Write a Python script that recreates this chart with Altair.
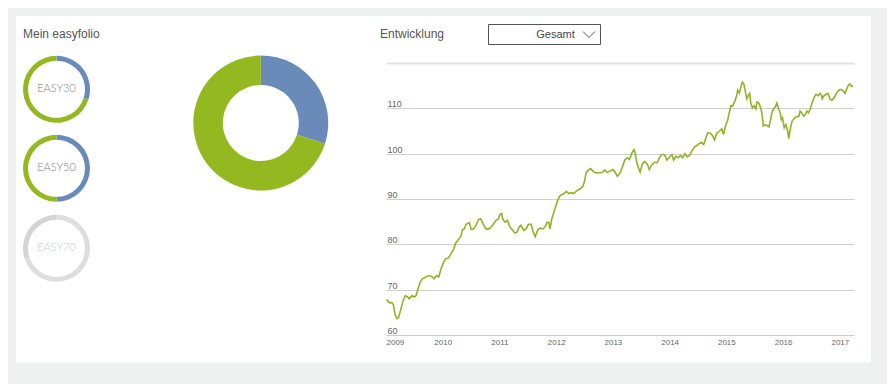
import altair as alt
import pandas as pd

# ---- data ----
years = [
    2009.01, 2009.06, 2009.10, 2009.13, 2009.16, 2009.19, 2009.22, 2009.26, 2009.30, 2009.34,
    2009.38, 2009.41, 2009.46, 2009.50, 2009.53, 2009.57, 2009.60, 2009.64, 2009.70, 2009.76,
    2009.82, 2009.85, 2009.89, 2009.93, 2009.97, 2010.01, 2010.05, 2010.10, 2010.14, 2010.19,
    2010.23, 2010.28, 2010.32, 2010.35, 2010.38, 2010.41, 2010.44, 2010.47, 2010.50, 2010.54,
    2010.58, 2010.63, 2010.67, 2010.71, 2010.76, 2010.82, 2010.88, 2010.94, 2010.98, 2011.01,
    2011.04, 2011.06, 2011.10, 2011.14, 2011.18, 2011.22, 2011.27, 2011.31, 2011.35, 2011.38,
    2011.43, 2011.47, 2011.51, 2011.56, 2011.59, 2011.63, 2011.68, 2011.72, 2011.77, 2011.81,
    2011.84, 2011.87, 2011.89, 2011.92, 2011.97, 2012.02, 2012.06, 2012.10, 2012.14, 2012.18,
    2012.22, 2012.27, 2012.31, 2012.35, 2012.40, 2012.43, 2012.47, 2012.50, 2012.53, 2012.57,
    2012.61, 2012.65, 2012.69, 2012.74, 2012.78, 2012.82, 2012.85, 2012.90, 2012.94, 2013.00,
    2013.04, 2013.08, 2013.13, 2013.17, 2013.21, 2013.25, 2013.29, 2013.33, 2013.37, 2013.39,
    2013.42, 2013.45, 2013.48, 2013.52, 2013.56, 2013.61, 2013.64, 2013.68, 2013.73, 2013.78,
    2013.82, 2013.86, 2013.91, 2013.95, 2013.99, 2014.04, 2014.07, 2014.11, 2014.15, 2014.19,
    2014.23, 2014.27, 2014.31, 2014.35, 2014.39, 2014.44, 2014.48, 2014.52, 2014.56, 2014.60,
    2014.64, 2014.67, 2014.72, 2014.76, 2014.79, 2014.83, 2014.88, 2014.92, 2014.95, 2014.99,
    2015.02, 2015.05, 2015.08, 2015.11, 2015.15, 2015.18, 2015.20, 2015.23, 2015.26, 2015.28,
    2015.31, 2015.34, 2015.36, 2015.38, 2015.41, 2015.43, 2015.46, 2015.49, 2015.52, 2015.54,
    2015.57, 2015.60, 2015.62, 2015.64, 2015.65, 2015.69, 2015.72, 2015.75, 2015.78, 2015.80,
    2015.83, 2015.86, 2015.89, 2015.92, 2015.95, 2015.97, 2015.99, 2016.02, 2016.05, 2016.08,
    2016.10, 2016.13, 2016.16, 2016.19, 2016.23, 2016.28, 2016.30, 2016.33, 2016.36, 2016.39,
    2016.42, 2016.45, 2016.48, 2016.51, 2016.55, 2016.58, 2016.62, 2016.65, 2016.68, 2016.69,
    2016.72, 2016.76, 2016.79, 2016.83, 2016.86, 2016.90, 2016.94, 2016.98, 2017.02, 2017.06,
    2017.09, 2017.12, 2017.15, 2017.18, 2017.21, 2017.23,
]
values = [
    67.8, 67.1, 67.2, 66.7, 64.5, 63.6, 63.8, 65.6, 67.5, 68.7,
    68.4, 68.0, 68.7, 68.4, 68.7, 70.4, 71.6, 72.4, 72.8, 73.1,
    72.8, 72.4, 73.1, 72.8, 74.6, 75.9, 76.8, 77.0, 77.8, 78.9,
    80.3, 81.1, 81.8, 83.3, 83.4, 84.4, 84.6, 84.8, 83.3, 83.4,
    84.0, 85.5, 85.6, 84.6, 83.4, 83.4, 84.2, 85.3, 85.6, 86.6,
    86.8, 85.5, 84.9, 85.3, 83.9, 83.3, 82.5, 82.7, 83.9, 84.2,
    83.1, 83.4, 84.4, 84.4, 82.9, 81.7, 83.3, 83.6, 83.4, 84.0,
    84.9, 84.8, 83.4, 85.5, 87.5, 89.5, 90.6, 91.0, 91.2, 91.7,
    91.2, 91.4, 91.2, 91.7, 92.1, 92.3, 92.8, 93.9, 95.8, 96.4,
    96.7, 96.1, 95.8, 95.8, 95.8, 95.9, 96.4, 95.9, 96.1, 96.5,
    95.9, 95.0, 95.8, 97.2, 98.6, 99.1, 98.7, 100.0, 100.9, 100.3,
    98.1, 96.9, 95.9, 97.8, 98.3, 97.6, 96.5, 97.4, 98.1, 98.0,
    99.1, 99.8, 99.8, 98.6, 99.1, 99.8, 98.6, 99.4, 99.1, 99.6,
    99.1, 100.0, 99.3, 99.6, 100.5, 101.5, 101.8, 102.2, 102.5, 102.0,
    103.5, 104.6, 104.5, 103.9, 103.0, 104.5, 105.0, 105.5, 104.2, 106.4,
    107.2, 109.0, 110.6, 110.5, 111.6, 112.7, 114.0, 113.4, 114.9, 115.8,
    115.3, 113.4, 112.1, 112.7, 113.3, 111.2, 110.1, 110.6, 109.9, 111.4,
    111.2, 110.3, 109.4, 107.5, 106.1, 106.4, 106.2, 105.9, 107.5, 108.9,
    109.9, 110.3, 111.2, 109.9, 109.0, 107.5, 107.9, 105.7, 106.4, 105.0,
    103.3, 105.7, 107.2, 107.7, 108.1, 108.3, 109.4, 109.0, 108.3, 108.6,
    109.4, 109.0, 109.9, 111.2, 112.5, 113.1, 112.8, 113.3, 112.8, 112.1,
    112.8, 113.1, 113.3, 112.0, 111.8, 112.3, 113.3, 114.0, 114.2, 113.8,
    113.3, 114.2, 115.1, 115.4, 114.8, 115.0,
]

y_ticks = [60, 70, 80, 90, 100, 110, 120]
x_ticks = [2009, 2010, 2011, 2012, 2013, 2014, 2015, 2016, 2017]

ring_names = ["EASY30", "EASY50", "EASY70"]
easy30_shares = [30, 70]
easy50_shares = [50, 50]
easy70_shares = [70, 30]
donut_shares = [30, 70]
active_colors = ["#6a8bb9", "#94b81f"]
inactive_colors = ["#dedede", "#d4d4d4"]

panel_title = ["Mein easyfolio"]
chart_title = ["Entwicklung"]
dropdown_label = ["Gesamt"]

# ---- styles ----
PAGE_GRAY = "#eef0ef"
LINE_GREEN = "#8fb324"
FONT = "Liberation Sans"

line_df = pd.DataFrame({"year": years, "value": values})

x_scale = alt.Scale(domain=[2009, 2017.25], nice=False, zero=False)
y_scale = alt.Scale(domain=[60, 120], nice=False, zero=False)

line = alt.Chart(line_df).mark_line(color=LINE_GREEN, strokeWidth=1.6).encode(
    x=alt.X("year:Q", scale=x_scale, axis=alt.Axis(
        values=x_ticks, format="d", title=None, grid=False, ticks=False, tickSize=0,
        domainColor="#c8ced8", domainWidth=1, labelFlush=True, labelFont=FONT,
        labelFontSize=8, labelColor="#666666", labelPadding=3)),
    y=alt.Y("value:Q", scale=y_scale, axis=alt.Axis(
        values=y_ticks, title=None, grid=True, ticks=False, tickSize=0, domain=False,
        gridColor={"condition": {"test": "datum.value === 120", "value": "#e4e4e4"}, "value": "#cfcfcf"},
        gridWidth={"condition": {"test": "datum.value === 120", "value": 2}, "value": 1},
        labelAlign="left", labelBaseline="alphabetic", labelPadding=-1, labelOffset=-1.5,
        labelExpr="datum.value == 120 ? '' : datum.label",
        labelFont=FONT, labelFontSize=9, labelColor="#666666")),
)


def one(label):
    return pd.DataFrame({"label": [label]})


def rect(x1, x2, y1, y2, fill, **kw):
    return alt.Chart(one("r")).mark_rect(fill=fill, **kw).encode(
        x=alt.value(x1), x2=alt.value(x2), y=alt.value(y1), y2=alt.value(y2))


def ring(shares, colors, cx, cy, outer, inner):
    df = pd.DataFrame({"part": [0, 1], "share": shares, "color": colors})
    return alt.Chart(df).mark_arc(outerRadius=outer, innerRadius=inner).encode(
        theta=alt.Theta("share:Q", stack=True, scale=alt.Scale(domain=[0, 100])),
        order=alt.Order("part:O"),
        color=alt.Color("color:N", scale=None),
        x=alt.value(cx), y=alt.value(cy))


def label(text, cx, cy, size, color, align="center", font=FONT, weight="normal"):
    return alt.Chart(one(text)).mark_text(
        align=align, baseline="middle", font=font, fontSize=size, color=color,
        fontWeight=weight).encode(
        x=alt.value(cx), y=alt.value(cy), text=alt.Text("label:N"))


# gray page surroundings (plot coords = page - (386, 63))
gray_top = rect(-378, 501, -55, -47, PAGE_GRAY)
gray_left = rect(-378, -370, -55, 321, PAGE_GRAY)
gray_right = rect(485, 501, -55, 321, PAGE_GRAY)
gray_bottom = rect(-378, 501, 299.5, 321, PAGE_GRAY)

dropdown = rect(102.5, 214.5, -38.5, -18.5, "white", stroke="#555555", strokeWidth=1)
chevron = alt.Chart(one("v")).mark_point(
    shape="M-1,-0.5L0,0.5L1,-0.5", size=144, filled=False, stroke="#555555",
    strokeWidth=1, opacity=1).encode(x=alt.value(203), y=alt.value(-28.5))

layers = [
    gray_top, gray_left, gray_right, gray_bottom,
    label(panel_title[0], -363, -29, 12, "#555555", align="left"),
    label(chart_title[0], -6, -29, 12, "#555555", align="left"),
    dropdown,
    label(dropdown_label[0], 169.5, -28.5, 11, "#444444"),
    chevron,
    ring(easy30_shares, active_colors, -329.5, 26.3, 33.5, 28.5),
    ring(easy50_shares, active_colors, -329.5, 105.3, 33.5, 28.5),
    ring(easy70_shares, inactive_colors, -329.5, 185.3, 33.5, 28.5),
    label(ring_names[0], -329.5, 26.3, 11, "#7b8088", font="Lato", weight=300),
    label(ring_names[1], -329.5, 105.3, 11, "#7b8088", font="Lato", weight=300),
    label(ring_names[2], -329.5, 185.3, 11, "#c8c8c8", font="Lato", weight=300),
    ring(donut_shares, active_colors, -125.2, 60, 67.5, 38),
    line,
]

chart = alt.layer(*layers).properties(
    width=468, height=272,
    padding={"left": 378, "top": 55, "right": 33, "bottom": 49},
    autosize=alt.AutoSizeParams(type="none"),
    background="white",
).configure_view(stroke=None)

chart.save("out.html", embed_options={"renderer": "svg", "actions": False})
